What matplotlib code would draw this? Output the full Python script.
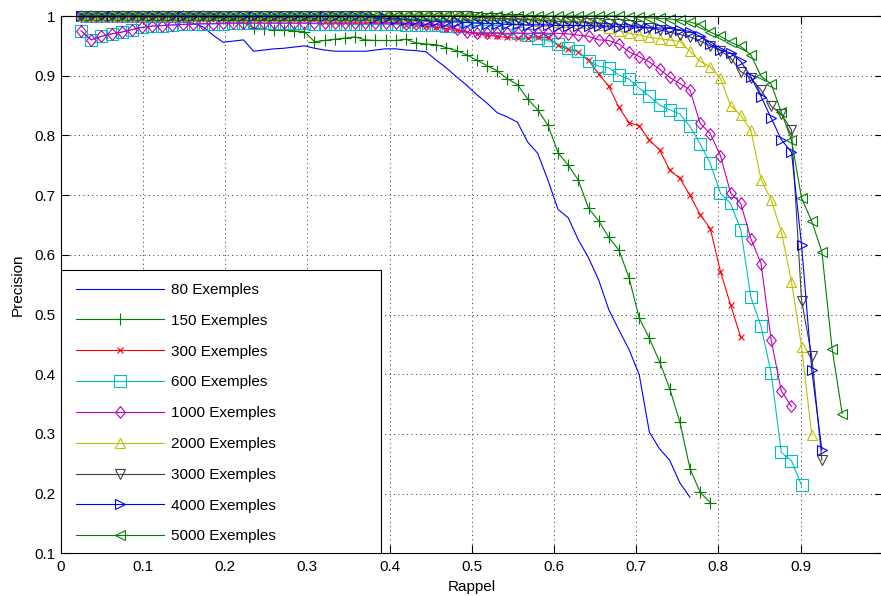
import matplotlib
matplotlib.use("Agg")
import matplotlib.pyplot as plt
from matplotlib.patches import Rectangle

plt.rcParams['font.family'] = ['Liberation Sans', 'DejaVu Sans']

# Recall levels shared by every curve (each curve stops at its own last level)
recall = [0.0247, 0.0370, 0.0494, 0.0617, 0.0741, 0.0864, 0.0988, 0.1111, 0.1235, 0.1358,
          0.1481, 0.1605, 0.1728, 0.1852, 0.1975, 0.2099, 0.2222, 0.2346, 0.2469, 0.2593,
          0.2716, 0.2840, 0.2963, 0.3086, 0.3210, 0.3333, 0.3457, 0.3580, 0.3704, 0.3827,
          0.3951, 0.4074, 0.4198, 0.4321, 0.4444, 0.4568, 0.4691, 0.4815, 0.4938, 0.5062,
          0.5185, 0.5309, 0.5432, 0.5556, 0.5679, 0.5802, 0.5926, 0.6049, 0.6173, 0.6296,
          0.6420, 0.6543, 0.6667, 0.6790, 0.6914, 0.7037, 0.7160, 0.7284, 0.7407, 0.7531,
          0.7654, 0.7778, 0.7901, 0.8025, 0.8148, 0.8272, 0.8395, 0.8519, 0.8642, 0.8765,
          0.8889, 0.9012, 0.9136, 0.9259, 0.9383, 0.9506]

prec_80 = [0.990, 0.990, 0.990, 0.990, 0.990, 0.990, 0.990, 0.990, 0.990, 0.990,
           0.990, 0.988, 0.982, 0.968, 0.956, 0.958, 0.960, 0.941, 0.943, 0.945,
           0.946, 0.948, 0.950, 0.946, 0.943, 0.941, 0.941, 0.941, 0.941, 0.943,
           0.945, 0.945, 0.943, 0.942, 0.940, 0.926, 0.913, 0.898, 0.884, 0.868,
           0.854, 0.838, 0.831, 0.822, 0.789, 0.770, 0.725, 0.676, 0.662, 0.625,
           0.595, 0.558, 0.508, 0.474, 0.441, 0.399, 0.303, 0.275, 0.256, 0.218,
           0.194]

prec_150 = [1.000, 1.000, 1.000, 1.000, 1.000, 1.000, 1.000, 1.000, 1.000, 1.000,
            1.000, 1.000, 1.000, 1.000, 0.997, 0.994, 0.989, 0.980, 0.978, 0.977,
            0.976, 0.975, 0.974, 0.957, 0.959, 0.961, 0.963, 0.965, 0.960, 0.959,
            0.959, 0.959, 0.961, 0.955, 0.953, 0.952, 0.947, 0.942, 0.935, 0.926,
            0.917, 0.908, 0.895, 0.885, 0.861, 0.843, 0.817, 0.771, 0.750, 0.725,
            0.678, 0.657, 0.629, 0.608, 0.561, 0.494, 0.460, 0.421, 0.376, 0.320,
            0.242, 0.202, 0.185]

prec_300 = [1.000, 1.000, 1.000, 1.000, 1.000, 1.000, 1.000, 1.000, 1.000, 1.000,
            1.000, 1.000, 1.000, 1.000, 0.995, 0.995, 0.995, 0.995, 0.995, 0.995,
            0.995, 0.995, 0.995, 0.995, 0.990, 0.990, 0.990, 0.990, 0.990, 0.990,
            0.990, 0.990, 0.985, 0.985, 0.983, 0.981, 0.979, 0.976, 0.973, 0.970,
            0.968, 0.966, 0.964, 0.963, 0.963, 0.964, 0.964, 0.951, 0.944, 0.940,
            0.926, 0.903, 0.882, 0.847, 0.821, 0.816, 0.792, 0.776, 0.742, 0.728,
            0.700, 0.667, 0.644, 0.572, 0.516, 0.462]

prec_600 = [0.975, 0.960, 0.966, 0.970, 0.973, 0.977, 0.981, 0.983, 0.984, 0.985,
            0.986, 0.986, 0.987, 0.987, 0.987, 0.988, 0.988, 0.988, 0.988, 0.988,
            0.988, 0.988, 0.988, 0.987, 0.987, 0.987, 0.987, 0.986, 0.986, 0.986,
            0.986, 0.986, 0.985, 0.985, 0.985, 0.985, 0.984, 0.984, 0.983, 0.984,
            0.984, 0.984, 0.980, 0.972, 0.969, 0.963, 0.959, 0.953, 0.946, 0.941,
            0.924, 0.916, 0.913, 0.901, 0.894, 0.879, 0.866, 0.851, 0.843, 0.836,
            0.815, 0.786, 0.753, 0.703, 0.686, 0.642, 0.529, 0.480, 0.402, 0.269,
            0.255, 0.214]

prec_1000 = [0.975, 0.960, 0.966, 0.970, 0.973, 0.977, 0.981, 0.983, 0.984, 0.985,
             0.986, 0.986, 0.987, 0.987, 0.988, 0.988, 0.988, 0.988, 0.988, 0.988,
             0.988, 0.988, 0.988, 0.988, 0.988, 0.988, 0.988, 0.988, 0.988, 0.988,
             0.988, 0.988, 0.987, 0.987, 0.986, 0.986, 0.983, 0.978, 0.973, 0.971,
             0.971, 0.971, 0.971, 0.971, 0.971, 0.971, 0.971, 0.971, 0.970, 0.968,
             0.966, 0.960, 0.959, 0.953, 0.940, 0.932, 0.923, 0.911, 0.897, 0.887,
             0.876, 0.820, 0.803, 0.766, 0.704, 0.686, 0.627, 0.585, 0.457, 0.372,
             0.346]

prec_2000 = [1.000, 1.000, 1.000, 1.000, 1.000, 1.000, 1.000, 1.000, 1.000, 1.000,
             1.000, 1.000, 1.000, 1.000, 1.000, 1.000, 1.000, 1.000, 1.000, 1.000,
             1.000, 1.000, 1.000, 1.000, 1.000, 1.000, 1.000, 1.000, 1.000, 1.000,
             1.000, 1.000, 1.000, 1.000, 1.000, 1.000, 1.000, 1.000, 1.000, 0.998,
             0.997, 0.996, 0.995, 0.994, 0.993, 0.992, 0.991, 0.990, 0.990, 0.989,
             0.988, 0.985, 0.980, 0.975, 0.971, 0.968, 0.964, 0.962, 0.960, 0.957,
             0.941, 0.924, 0.915, 0.896, 0.850, 0.834, 0.809, 0.726, 0.692, 0.639,
             0.555, 0.446, 0.298]

prec_3000 = [1.000, 1.000, 1.000, 1.000, 1.000, 1.000, 1.000, 1.000, 1.000, 1.000,
             1.000, 1.000, 1.000, 1.000, 1.000, 1.000, 1.000, 1.000, 1.000, 1.000,
             1.000, 1.000, 1.000, 1.000, 1.000, 1.000, 1.000, 1.000, 1.000, 1.000,
             1.000, 1.000, 1.000, 1.000, 1.000, 1.000, 1.000, 1.000, 1.000, 0.998,
             0.997, 0.996, 0.995, 0.995, 0.994, 0.993, 0.992, 0.991, 0.990, 0.990,
             0.989, 0.988, 0.987, 0.986, 0.985, 0.983, 0.980, 0.977, 0.973, 0.969,
             0.965, 0.958, 0.950, 0.942, 0.930, 0.907, 0.896, 0.876, 0.849, 0.836,
             0.809, 0.523, 0.430, 0.256]

prec_4000 = [1.000, 1.000, 1.000, 1.000, 1.000, 1.000, 1.000, 1.000, 1.000, 1.000,
             1.000, 1.000, 1.000, 1.000, 1.000, 1.000, 1.000, 1.000, 1.000, 1.000,
             1.000, 1.000, 1.000, 1.000, 1.000, 1.000, 1.000, 1.000, 1.000, 0.997,
             0.996, 0.995, 0.994, 0.993, 0.992, 0.991, 0.990, 0.990, 0.989, 0.988,
             0.987, 0.987, 0.986, 0.986, 0.985, 0.985, 0.985, 0.984, 0.984, 0.984,
             0.984, 0.983, 0.983, 0.982, 0.982, 0.981, 0.980, 0.980, 0.979, 0.977,
             0.974, 0.966, 0.953, 0.943, 0.938, 0.924, 0.898, 0.865, 0.829, 0.793,
             0.772, 0.616, 0.407, 0.273]

prec_5000 = [1.000, 1.000, 1.000, 1.000, 1.000, 1.000, 1.000, 1.000, 1.000, 1.000,
             1.000, 1.000, 1.000, 1.000, 1.000, 1.000, 1.000, 1.000, 1.000, 1.000,
             1.000, 1.000, 1.000, 1.000, 1.000, 1.000, 1.000, 1.000, 1.000, 1.000,
             1.000, 1.000, 1.000, 1.000, 1.000, 1.000, 1.000, 1.000, 1.000, 1.000,
             1.000, 1.000, 1.000, 1.000, 1.000, 1.000, 1.000, 1.000, 1.000, 1.000,
             1.000, 1.000, 1.000, 1.000, 0.999, 0.998, 0.997, 0.996, 0.995, 0.993,
             0.990, 0.985, 0.973, 0.966, 0.956, 0.949, 0.935, 0.899, 0.886, 0.839,
             0.792, 0.695, 0.656, 0.605, 0.443, 0.334]

series = [prec_80, prec_150, prec_300, prec_600, prec_1000,
          prec_2000, prec_3000, prec_4000, prec_5000]
labels = ['80 Exemples', '150 Exemples', '300 Exemples', '600 Exemples',
          '1000 Exemples', '2000 Exemples', '3000 Exemples', '4000 Exemples',
          '5000 Exemples']

xtick_values = [0.0, 0.1, 0.2, 0.3, 0.4, 0.5, 0.6, 0.7, 0.8, 0.9]
xtick_labels = ['0', '0.1', '0.2', '0.3', '0.4', '0.5', '0.6', '0.7', '0.8', '0.9']
ytick_values = [0.1, 0.2, 0.3, 0.4, 0.5, 0.6, 0.7, 0.8, 0.9, 1.0]
ytick_labels = ['0.1', '0.2', '0.3', '0.4', '0.5', '0.6', '0.7', '0.8', '0.9', '1']

# MATLAB-like colour order and marker set
colors = [(0, 0, 1), (0, 0.5, 0), (1, 0, 0), (0, 0.75, 0.75), (0.75, 0, 0.75),
          (0.75, 0.75, 0), (0.25, 0.25, 0.25), (0, 0, 1), (0, 0.5, 0)]
diamond = [(0, 1), (0.82, 0), (0, -1), (-0.82, 0), (0, 1)]
markers = [None, '+', 'x', 's', diamond, '^', 'v', '>', '<']
msizes = [0, 9, 5, 8, 8.5, 7.5, 7.5, 7.5, 7.5]

W, H = 881, 596
fig = plt.figure(figsize=(W / 100, H / 100), dpi=100)
ax = fig.add_axes([60.8 / W, (H - 553.3) / H, 822 / W, 537.3 / H])

for prec, lab, col, mk, ms in zip(series, labels, colors, markers, msizes):
    ax.plot(recall[:len(prec)], prec, color=col, lw=0.8, marker=mk, ms=ms,
            mfc='none', mec=col, mew=0.8, label=lab, clip_on=False)

ax.set_xlim(0, 1)
ax.set_ylim(0.1, 1)
ax.set_xticks(xtick_values)
ax.set_xticklabels(xtick_labels)
ax.set_yticks(ytick_values)
ax.set_yticklabels(ytick_labels)
ax.tick_params(direction='in', length=6, width=0.8, top=True, right=True,
               labelsize=11, colors='black')
ax.tick_params(axis='x', pad=5)
ax.tick_params(axis='y', pad=4)
ax.grid(True, color='#303030', lw=0.7, linestyle=(0, (1, 3.5)))
for sp in ax.spines.values():
    sp.set_linewidth(0.8)
    sp.set_color('black')

ax.set_xlabel('Rappel', fontsize=11, labelpad=4.5)
ax.set_ylabel('Precision', fontsize=11, labelpad=7)

# legend box anchored in the lower-left corner of the axes
ax.add_patch(Rectangle((0, 0), 0.3895, 0.528, transform=ax.transAxes,
                       facecolor='white', edgecolor='black', lw=0.8, zorder=4))
leg = ax.legend(loc='upper left', bbox_to_anchor=(0.0185, 0.503), borderpad=0,
                borderaxespad=0, frameon=False, handlelength=5.75,
                handletextpad=0.5, labelspacing=1.10, numpoints=1, fontsize=11)
leg.set_zorder(5)

fig.savefig('out.png', dpi=100)
